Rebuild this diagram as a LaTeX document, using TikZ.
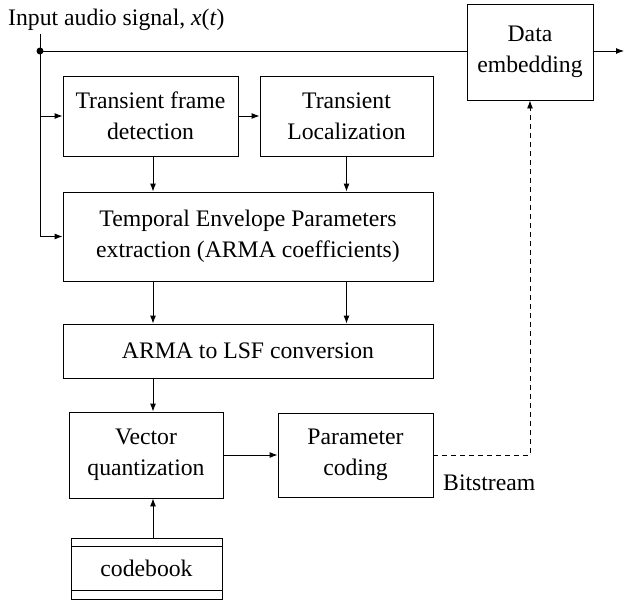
\documentclass[tikz,border=0pt]{standalone}
\usepackage{fontspec}
\setmainfont{Liberation Serif}
\usetikzlibrary{arrows.meta,positioning,calc}

\tikzset{
	block/.style={draw,line width=0.9pt,align=center,inner sep=2pt,
		font=\fontsize{23.7}{31}\selectfont},
	flow/.style={line width=0.9pt,-{Latex[length=8pt,width=6pt]}},
	wire/.style={line width=0.9pt}
}

\begin{document}
\begin{tikzpicture}[x=1pt,y=-1pt]
	\useasboundingbox (0,0) rectangle (625,600);
	% blocks
	\node[block,minimum width=175pt,minimum height=80pt] (tfd) at (150.5,116) {Transient frame\\detection};
	\node[block,minimum width=173pt,minimum height=80pt] (tl) at (346.5,116) {Transient\\Localization};
	\node[block,minimum width=370pt,minimum height=89pt] (tep) at (248,236.5) {Temporal Envelope Parameters\\extraction (ARMA coefficients)};
	\node[block,minimum width=370pt,minimum height=54pt] (arma) at (248,351) {ARMA to LSF conversion};
	\node[block,minimum width=154pt,minimum height=86pt] (vq) at (146,455) {Vector\\quantization};
	\node[block,minimum width=155pt,minimum height=84pt] (pc) at (355.5,455) {Parameter\\coding};
	\node[block,minimum width=151pt,minimum height=61pt] (cb) at (146.5,568.5) {codebook};
	\node[block,minimum width=126pt,minimum height=96pt] (de) at (530,52) {Data\\embedding};
	% codebook double rules
	\draw[wire] ([yshift=-9pt]cb.north west) -- ([yshift=-9pt]cb.north east);
	\draw[wire] ([yshift=9pt]cb.south west) -- ([yshift=9pt]cb.south east);
	% labels
	\node[anchor=base west,inner sep=0pt,font=\fontsize{23.7}{31}\selectfont] (inp) at (8,25) {Input audio signal, \textit{x}(\textit{t})};
	\node[anchor=base west,inner sep=0pt,font=\fontsize{23.7}{31}\selectfont] (bits) at (443,490) {Bitstream};
	% input branch
	\coordinate (split) at (40,51);
	\coordinate (col) at (153,0);
	\coordinate (out) at (624,51);
	\fill (split) circle (3.5pt);
	\draw[flow] (split |- inp.south) ++(0,4) |- (tep.west);
	\draw[flow] (split |- tfd.west) -- (tfd.west);
	\draw[wire] (split) -- (split -| de.west);
	\draw[flow] (split -| de.east) -- (out);
	% signal chain
	\draw[flow] (tfd) -- (tl);
	\draw[flow] (col |- tfd.south) -- (col |- tep.north);
	\draw[flow] (tl.south) -- (tl.south |- tep.north);
	\draw[flow] (col |- tep.south) -- (col |- arma.north);
	\draw[flow] (tl.south |- tep.south) -- (tl.south |- arma.north);
	\draw[flow] (col |- arma.south) -- (col |- vq.north);
	\draw[flow] (col |- cb.north) -- (col |- vq.south);
	\draw[flow] (vq) -- (pc);
	\draw[flow,dashed,dash pattern=on 5pt off 4pt] (pc.east) -| (de.south);
\end{tikzpicture}
\end{document}
